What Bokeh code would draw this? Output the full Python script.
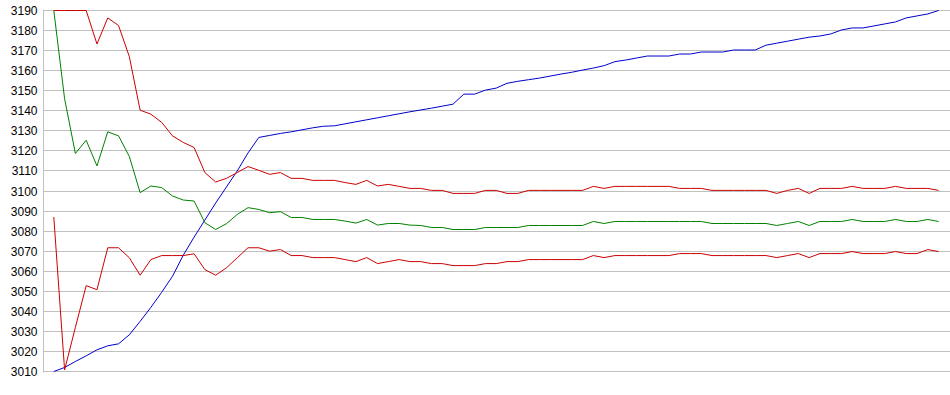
from bokeh.plotting import figure
from bokeh.models import Range1d, FixedTicker
from bokeh.embed import file_html
from bokeh.resources import INLINE

# ---- data ----
y_ticks = list(range(3010, 3191, 10))

upper_band = [3190, 3190, 3190, 3190, 3173.3, 3186.3, 3182.5, 3167, 3140.3, 3138.3,
              3134.2, 3127.5, 3124.2, 3121.7, 3109.2, 3104.5, 3106.3, 3109.2, 3112.2, 3110.3,
              3108.3, 3109.2, 3106.3, 3106.3, 3105.3, 3105.3, 3105.3, 3104.2, 3103.3, 3105.3,
              3102.5, 3103.3, 3102.3, 3101.3, 3101.3, 3100.3, 3100.3, 3098.8, 3098.8, 3098.8,
              3100.3, 3100.3, 3098.8, 3098.8, 3100.3, 3100.3, 3100.3, 3100.3, 3100.3, 3100.3,
              3102.3, 3101.3, 3102.3, 3102.3, 3102.3, 3102.3, 3102.3, 3102.3, 3101.3, 3101.3,
              3101.3, 3100.3, 3100.3, 3100.3, 3100.3, 3100.3, 3100.3, 3098.8, 3100.3, 3101.3,
              3098.8, 3101.3, 3101.3, 3101.3, 3102.3, 3101.3, 3101.3, 3101.3, 3102.3, 3101.3,
              3101.3, 3101.3, 3100.3]

middle_band = [3190, 3146, 3118.7, 3125.3, 3112.5, 3129.5, 3127.5, 3117.2, 3099.2, 3102.5,
               3101.7, 3097.5, 3095.5, 3095, 3084.2, 3080.8, 3083.7, 3088.3, 3091.7, 3090.8,
               3089.2, 3089.7, 3086.8, 3086.8, 3085.8, 3085.8, 3085.8, 3085, 3084, 3085.8,
               3083, 3083.8, 3083.8, 3083, 3082.8, 3081.8, 3081.8, 3080.8, 3080.8, 3080.8,
               3081.8, 3081.8, 3081.8, 3081.8, 3082.8, 3082.8, 3082.8, 3082.8, 3082.8, 3082.8,
               3084.8, 3083.8, 3084.8, 3084.8, 3084.8, 3084.8, 3084.8, 3084.8, 3084.8, 3084.8,
               3084.8, 3083.8, 3083.8, 3083.8, 3083.8, 3083.8, 3083.8, 3082.8, 3083.8, 3084.8,
               3082.8, 3084.8, 3084.8, 3084.8, 3085.8, 3084.8, 3084.8, 3084.8, 3085.8, 3084.8,
               3084.8, 3085.8, 3084.8]

lower_band = [3087, 3010.8, 3032, 3052.8, 3050.8, 3071.7, 3071.7, 3066.7, 3058, 3065.8,
              3067.8, 3067.8, 3067.8, 3068.7, 3060.8, 3058, 3061.7, 3066.7, 3071.7, 3071.7,
              3070, 3070.8, 3067.8, 3067.8, 3066.8, 3066.8, 3066.8, 3065.8, 3064.8, 3066.8,
              3063.8, 3064.8, 3065.8, 3064.8, 3064.8, 3063.8, 3063.8, 3062.8, 3062.8, 3062.8,
              3063.8, 3063.8, 3064.8, 3064.8, 3065.8, 3065.8, 3065.8, 3065.8, 3065.8, 3065.8,
              3067.8, 3066.8, 3067.8, 3067.8, 3067.8, 3067.8, 3067.8, 3067.8, 3068.8, 3068.8,
              3068.8, 3067.8, 3067.8, 3067.8, 3067.8, 3067.8, 3067.8, 3066.8, 3067.8, 3068.8,
              3066.8, 3068.8, 3068.8, 3068.8, 3069.8, 3068.8, 3068.8, 3068.8, 3069.8, 3068.8,
              3068.8, 3070.8, 3069.8]

blue_line = [3010, 3012, 3015, 3017.8, 3020.8, 3022.8, 3023.8, 3028.3, 3035, 3042,
             3049.5, 3057.5, 3068, 3077, 3085.5, 3094, 3102, 3110, 3119, 3126.7,
             3127.7, 3128.7, 3129.5, 3130.5, 3131.5, 3132.3, 3132.5, 3133.5, 3134.5, 3135.5,
             3136.5, 3137.5, 3138.5, 3139.5, 3140.4, 3141.3, 3142.3, 3143.3, 3148.3, 3148.3,
             3150.3, 3151.3, 3153.7, 3154.7, 3155.5, 3156.3, 3157.3, 3158.3, 3159.2, 3160.3,
             3161.3, 3162.5, 3164.5, 3165.3, 3166.3, 3167.3, 3167.3, 3167.3, 3168.3, 3168.3,
             3169.3, 3169.3, 3169.3, 3170.3, 3170.3, 3170.3, 3172.7, 3173.7, 3174.7, 3175.7,
             3176.7, 3177.3, 3178.3, 3180.3, 3181.3, 3181.3, 3182.3, 3183.3, 3184.3, 3186.3,
             3187.3, 3188.3, 3190]

x = list(range(len(blue_line)))

# ---- figure ----
p = figure(width=950, height=384, output_backend="svg", toolbar_location=None,
           x_range=Range1d(-0.955, 83.1), y_range=Range1d(3009.5, 3190.5),
           min_border_left=43, min_border_right=0, min_border_top=9, min_border_bottom=12)
p.outline_line_color = None
p.background_fill_color = "white"
p.border_fill_color = "white"

p.xaxis.visible = False
p.xgrid.visible = False

yax = p.yaxis[0]
yax.ticker = FixedTicker(ticks=y_ticks)
yax.axis_line_color = "#c0c0c0"
yax.major_tick_line_color = None
yax.minor_tick_line_color = None
yax.major_tick_out = 0
yax.major_tick_in = 0
yax.minor_tick_out = 0
yax.major_label_standoff = 6
yax.major_label_text_font = "Liberation Sans"
yax.major_label_text_font_size = "12px"
yax.major_label_text_color = "#000000"

p.ygrid.ticker = FixedTicker(ticks=y_ticks)
p.ygrid.grid_line_color = "#c0c0c0"
p.ygrid.grid_line_width = 1

p.line(x, blue_line, line_color="#0000cc", line_width=1)
p.line(x, upper_band, line_color="#cc0000", line_width=1)
p.line(x, lower_band, line_color="#cc0000", line_width=1)
p.line(x, middle_band, line_color="#008000", line_width=1)

open("out.html", "w").write(file_html(p, INLINE))
